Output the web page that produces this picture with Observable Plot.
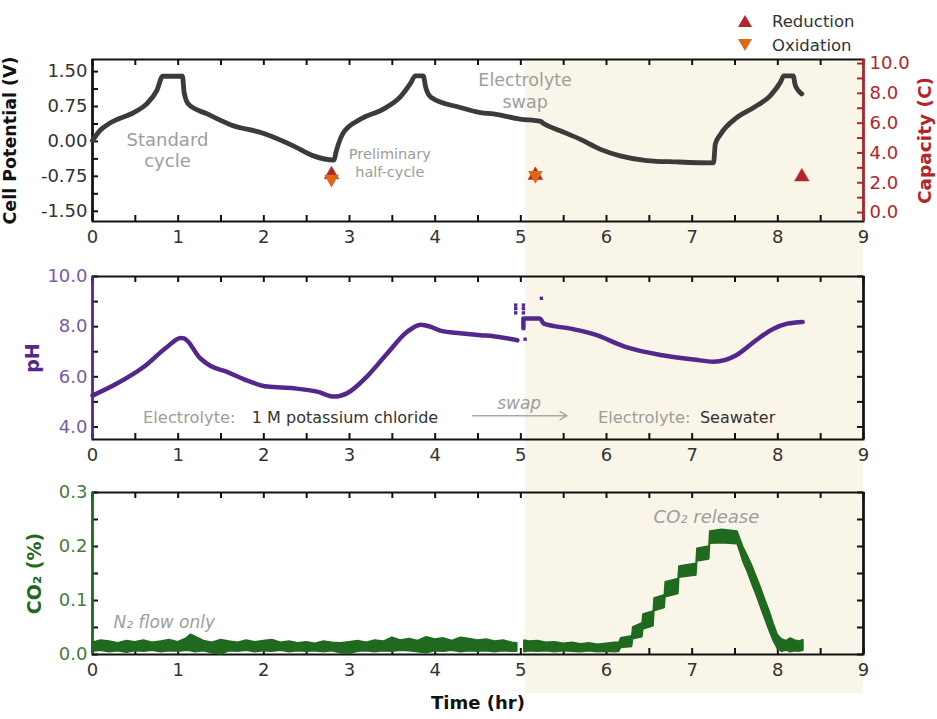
<!DOCTYPE html>
<html><head><meta charset="utf-8">
<script src="https://cdn.jsdelivr.net/npm/d3@7"></script>
<script src="https://cdn.jsdelivr.net/npm/@observablehq/plot@0.6"></script>
<style>
body{margin:0;background:#fff;font-family:"DejaVu Sans",sans-serif}
#wrap{position:relative;width:937px;height:719px;overflow:hidden;background:#fff}
.panel{position:absolute;left:0}
#legend{position:absolute;left:737px;top:9px;font-size:16.5px;color:#333;font-family:"DejaVu Sans",sans-serif}
.row{display:flex;align-items:center;height:24px}
.row svg{margin-right:19px}
</style></head><body>
<div id="wrap">
 <div id="p1" class="panel" style="top:0"></div>
 <div id="p2" class="panel" style="top:258px"></div>
 <div id="p3" class="panel" style="top:465px"></div>
 <div id="legend"></div>
</div>
<script>
// ---------- data ----------
const timeLabels = [0,1,2,3,4,5,6,7,8,9];
const timeTicks = d3.range(0, 9.01, 0.5);
const potentialLabels = [1.5, 0.75, 0, -0.75, -1.5];
const potentialTicks = [1.5, 1.125, 0.75, 0.375, 0, -0.375, -0.75, -1.125, -1.5];
const capacityLabels = [0, 2, 4, 6, 8, 10];
const capacityTicks = [0,1,2,3,4,5,6,7,8,9,10];
const phLabels = [4, 6, 8, 10];
const phTicks = [4,5,6,7,8,9,10];
const co2Labels = [0, 0.1, 0.2, 0.3];
const co2Ticks = [0, 0.05, 0.1, 0.15, 0.2, 0.25, 0.3];
const swapStart = 5.05;

const potT = [0.00,0.09,0.21,0.48,0.63,0.75,0.82,1.05,1.07,1.12,1.34,1.61,2.00,2.35,2.58,2.82,2.84,2.87,2.93,3.13,3.40,3.59,3.71,3.77,3.86,3.89,3.95,4.29,4.53,4.68,4.99,5.23,5.27,5.46,5.69,5.93,6.16,6.47,6.82,7.25,7.27,7.33,7.52,7.72,7.91,8.03,8.07,8.18,8.20,8.24,8.28];
const potV = [0.02,0.24,0.40,0.62,0.80,1.09,1.40,1.40,1.05,0.80,0.59,0.36,0.17,-0.10,-0.31,-0.40,-0.25,-0.06,0.19,0.48,0.70,0.95,1.24,1.41,1.41,1.16,0.95,0.73,0.62,0.59,0.48,0.43,0.38,0.23,0.05,-0.17,-0.31,-0.41,-0.44,-0.46,-0.06,0.15,0.51,0.73,0.98,1.27,1.41,1.41,1.23,1.09,1.02];

const reductionT = [2.79, 5.17, 8.28];
const reductionC = [2.55, 2.5, 2.4];
const oxidationT = [2.79, 5.17];
const oxidationC = [2.25, 2.5];

const phT = [0.00,0.29,0.60,0.87,1.03,1.07,1.26,1.38,1.57,1.77,2.04,2.35,2.62,2.82,2.97,3.20,3.44,3.67,3.83,3.95,4.07,4.29,4.53,4.68,4.96,5.00,5.03,5.03,5.22,5.27,5.58,5.85,6.24,6.63,7.02,7.25,7.52,7.72,7.95,8.11,8.29];
const phV = [5.25,5.74,6.40,7.19,7.55,7.53,6.73,6.43,6.20,5.90,5.61,5.54,5.41,5.21,5.34,6.00,6.93,7.79,8.08,7.99,7.83,7.74,7.66,7.62,7.46,null,7.94,8.33,8.33,8.12,7.92,7.70,7.17,6.87,6.69,6.60,6.87,7.39,7.92,8.12,8.19];
const phStrayT = [4.94,4.94,4.94,5.03,5.03,5.03,5.05,5.24];
const phStrayV = [8.86,8.72,8.55,8.86,8.72,8.55,7.50,9.13];

const co2T  = [0,0.1,0.2,0.3,0.4,0.5,0.6,0.7,0.8,0.9,1.0,1.1,1.15,1.2,1.3,1.4,1.5,1.6,1.7,1.8,1.9,2.0,2.1,2.2,2.3,2.4,2.5,2.6,2.7,2.8,2.9,3.0,3.1,3.2,3.3,3.4,3.5,3.6,3.7,3.8,3.9,4.0,4.1,4.2,4.3,4.4,4.5,4.6,4.7,4.8,4.9,4.96,4.97,
  5.04,5.1,5.2,5.3,5.4,5.5,5.6,5.7,5.8,5.9,6.0,6.1,6.15,6.17,6.30,6.31,6.42,6.43,6.55,6.56,6.68,6.69,6.84,6.85,7.05,7.06,7.20,7.21,7.35,7.53,7.56,7.6,7.65,7.7,7.75,7.8,7.85,7.9,7.95,8.0,8.05,8.1,8.15,8.2,8.25,8.3];
const co2Lo = [.005,.007,.004,.006,.003,.006,.005,.007,.004,.006,.005,.007,.006,.004,.006,.002,.000,.006,.005,.007,.004,.006,.005,.007,.004,.006,.005,.006,.004,.006,.002,.001,.005,.006,.004,.006,.005,.007,.006,.004,.002,.006,.005,.007,.004,.006,.005,.006,.004,.006,.005,.005,null,
  .004,.006,.005,.006,.004,.006,.005,.004,.006,.004,.005,.004,.005,.012,.014,.028,.032,.046,.052,.080,.086,.106,.112,.142,.146,.172,.176,.205,.206,.204,.190,.170,.152,.130,.110,.088,.066,.045,.025,.010,.005,.007,.004,.006,.005,.007];
const co2Hi = [.022,.026,.024,.021,.025,.023,.026,.022,.024,.027,.023,.030,.037,.033,.025,.022,.027,.024,.022,.026,.023,.025,.027,.022,.024,.021,.023,.020,.024,.022,.021,.023,.025,.022,.026,.024,.031,.026,.029,.025,.032,.028,.030,.025,.031,.029,.026,.028,.024,.026,.022,.021,null,
  .026,.024,.025,.022,.023,.020,.022,.019,.021,.018,.020,.022,.022,.030,.034,.050,.058,.074,.080,.104,.110,.134,.140,.163,.168,.196,.200,.228,.231,.228,.215,.198,.182,.165,.145,.125,.103,.082,.058,.036,.028,.025,.030,.026,.024,.027];

// ---------- layout ----------
const W = 937, ML = 92, MR = 74;
const FW = W - ML - MR;
const SHADE = "#f9f5e8";
const INK = "#111";
const RED = "#b3242b", ORANGE = "#dd6816";
const PURPLE = "#53288c", PURPLE_T = "#7a5aa8";
const GREEN = "#1f6a1f", GREEN_T = "#3f7d3f";
const GRAY = "#9d9d9d", DARK = "#333";

const potDomain = [-1.72, 1.76];
const capToV = d3.scaleLinear().domain([-0.6, 10.27]).range(potDomain);

const pot = potT.map((t, i) => ({t, v: potV[i]}));
const red = reductionT.map((t, i) => ({t, v: capToV(reductionC[i])}));
const ox = oxidationT.map((t, i) => ({t, v: capToV(oxidationC[i])}));
const ph = phT.map((t, i) => ({t, v: phV[i]}));
const phStray = phStrayT.map((t, i) => ({t, v: phStrayV[i]}));
const co2 = co2T.map((t, i) => ({t, lo: co2Lo[i], hi: co2Hi[i]}));

function common({height, mt, mb, yTicksL, yTicksR, leftColor, rightColor, rightTickColor, shadeTop, shadeBottom}) {
  const FH = height - mt - mb;
  return [
    Plot.rect([{x1: swapStart, x2: 9}], {x1: "x1", x2: "x2", fill: SHADE, insetTop: -shadeTop, insetBottom: -shadeBottom}),
    Plot.tickX(timeTicks, {x: d => d, stroke: INK, strokeWidth: 2, insetTop: FH - 6}),
    Plot.tickX(timeTicks, {x: d => d, stroke: INK, strokeWidth: 2, insetBottom: FH - 6}),
    Plot.tickY(yTicksL, {y: d => d, stroke: INK, strokeWidth: 2, insetRight: FW - 6}),
    Plot.tickY(yTicksR, {y: d => d, stroke: rightTickColor, strokeWidth: 2, insetLeft: FW - 6}),
    Plot.frame({stroke: INK, strokeWidth: 2}),
    Plot.ruleX([0], {stroke: leftColor, strokeWidth: 2.5}),
    Plot.ruleX([9], {stroke: rightColor, strokeWidth: 2.5}),
    Plot.axisX({ticks: timeLabels, tickSize: 0, tickPadding: 9, fontSize: 18, color: DARK, label: null})
  ];
}

const baseStyle = {fontFamily: "DejaVu Sans", fontSize: "18px", background: "transparent", overflow: "visible"};

// ---------- panel 1 ----------
const h1 = 258, mt1 = 59, mb1 = 37;
const p1 = Plot.plot({
  width: W, height: h1, marginTop: mt1, marginBottom: mb1, marginLeft: ML, marginRight: MR,
  style: baseStyle,
  x: {domain: [0, 9]},
  y: {domain: potDomain},
  marks: [
    ...common({height: h1, mt: mt1, mb: mb1, yTicksL: potentialTicks, yTicksR: capacityTicks.map(capToV),
      leftColor: INK, rightColor: RED, rightTickColor: RED, shadeTop: 0, shadeBottom: mb1}),
    Plot.axisY({ticks: potentialLabels, tickSize: 0, tickPadding: 5, fontSize: 18, color: DARK, label: null, tickFormat: d => d.toFixed(2)}),
    Plot.axisY({anchor: "right", ticks: capacityLabels.map(capToV), tickSize: 0, tickPadding: 6, fontSize: 18, color: RED, label: null,
      tickFormat: d => Math.round(capToV.invert(d)).toFixed(1)}),
    Plot.line(pot, {x: "t", y: "v", stroke: "#3b3b3b", strokeWidth: 4.8, strokeLinejoin: "round", strokeLinecap: "round", curve: "monotone-x"}),
    Plot.dot(red, {x: "t", y: "v", symbol: "triangle", r: 5.4, fill: RED, stroke: RED, strokeWidth: 0.5}),
    Plot.dot(ox, {x: "t", y: "v", symbol: "triangle", rotate: 180, r: 5.4, fill: ORANGE}),
    Plot.text(["Standard\ncycle"], {x: 0.875, y: -0.18, fill: GRAY, fontSize: 18, lineHeight: 1.17}),
    Plot.text(["Preliminary\nhalf-cycle"], {x: 3.47, y: -0.44, fill: GRAY, fontSize: 14.5, lineHeight: 1.3}),
    Plot.text(["Electrolyte\nswap"], {x: 5.05, y: 1.115, fill: GRAY, fontSize: 17.5, lineHeight: 1.26}),
    Plot.text(["Cell Potential (V)"], {frameAnchor: "left", textAnchor: "middle", dx: -82, rotate: -90, fontWeight: "bold", fontSize: 17.5, fill: INK}),
    Plot.text(["Capacity (C)"], {frameAnchor: "right", textAnchor: "middle", dx: 62, rotate: -90, fontWeight: "bold", fontSize: 18.5, fill: RED})
  ]
});
document.getElementById("p1").append(p1);

// ---------- panel 2 ----------
const h2 = 207, mt2 = 18, mb2 = 26;
const p2 = Plot.plot({
  width: W, height: h2, marginTop: mt2, marginBottom: mb2, marginLeft: ML, marginRight: MR,
  style: baseStyle,
  x: {domain: [0, 9]},
  y: {domain: [3.5, 10]},
  marks: [
    ...common({height: h2, mt: mt2, mb: mb2, yTicksL: phTicks, yTicksR: phTicks,
      leftColor: PURPLE, rightColor: INK, rightTickColor: INK, shadeTop: mt2, shadeBottom: mb2}),
    Plot.axisY({ticks: phLabels, tickSize: 0, tickPadding: 5, fontSize: 18, color: PURPLE_T, label: null, tickFormat: d => d.toFixed(1)}),
    Plot.line(ph, {x: "t", y: "v", stroke: PURPLE, strokeWidth: 4.5, strokeLinejoin: "round", strokeLinecap: "round", curve: "monotone-x"}),
    Plot.dot(phStray, {x: "t", y: "v", symbol: "square", r: 1.9, fill: PURPLE}),
    Plot.text(["Electrolyte:"], {x: 1.67, y: 4.38, textAnchor: "end", fill: GRAY, fontSize: 16.3}),
    Plot.text(["1 M potassium chloride"], {x: 1.86, y: 4.38, textAnchor: "start", fill: DARK, fontSize: 16}),
    Plot.text(["Electrolyte:"], {x: 6.98, y: 4.38, textAnchor: "end", fill: GRAY, fontSize: 16.3}),
    Plot.text(["Seawater"], {x: 7.09, y: 4.38, textAnchor: "start", fill: DARK, fontSize: 16}),
    Plot.text(["swap"], {x: 4.98, y: 4.95, fill: GRAY, fontSize: 17, fontStyle: "italic"}),
    Plot.arrow([{x1: 4.44, x2: 5.54, y: 4.45}], {x1: "x1", x2: "x2", y1: "y", y2: "y", stroke: "#a8a8a8", strokeWidth: 1.5, headLength: 8}),
    Plot.text(["pH"], {frameAnchor: "left", textAnchor: "middle", dx: -60, rotate: -90, fontWeight: "bold", fontSize: 19, fill: PURPLE})
  ]
});
document.getElementById("p2").append(p2);

// ---------- panel 3 ----------
const h3 = 254, mt3 = 27, mb3 = 65;
const p3 = Plot.plot({
  width: W, height: h3, marginTop: mt3, marginBottom: mb3, marginLeft: ML, marginRight: MR,
  style: baseStyle,
  x: {domain: [0, 9]},
  y: {domain: [0, 0.3]},
  marks: [
    ...common({height: h3, mt: mt3, mb: mb3, yTicksL: co2Ticks, yTicksR: co2Ticks,
      leftColor: GREEN, rightColor: INK, rightTickColor: INK, shadeTop: mt3, shadeBottom: 39}),
    Plot.axisY({ticks: co2Labels, tickSize: 0, tickPadding: 5, fontSize: 18, color: GREEN_T, label: null, tickFormat: d => d.toFixed(1)}),
    Plot.areaY(co2, {x: "t", y1: "lo", y2: "hi", fill: GREEN, stroke: GREEN, strokeWidth: 1.4, strokeLinejoin: "miter"}),
    Plot.text(["N₂ flow only"], {x: 0.245, y: 0.059, textAnchor: "start", fill: GRAY, fontSize: 17, fontStyle: "italic"}),
    Plot.text(["CO₂ release"], {x: 6.55, y: 0.254, textAnchor: "start", fill: GRAY, fontSize: 18, fontStyle: "italic"}),
    Plot.text(["CO₂ (%)"], {frameAnchor: "left", textAnchor: "middle", dx: -58, rotate: -90, fontWeight: "bold", fontSize: 19, fill: GREEN}),
    Plot.text(["Time (hr)"], {frameAnchor: "bottom", dy: 54, fontWeight: "bold", fontSize: 18, fill: INK})
  ]
});
document.getElementById("p3").append(p3);

// ---------- legend ----------
const legendItems = [
  {label: "Reduction", color: RED, pts: "1,13 8,1 15,13"},
  {label: "Oxidation", color: ORANGE, pts: "1,1 15,1 8,13"}
];
const lg = document.getElementById("legend");
for (const it of legendItems) {
  const row = document.createElement("div");
  row.className = "row";
  row.innerHTML = `<svg width="16" height="14"><polygon points="${it.pts}" fill="${it.color}"/></svg><span>${it.label}</span>`;
  lg.append(row);
}
</script>
</body></html>
